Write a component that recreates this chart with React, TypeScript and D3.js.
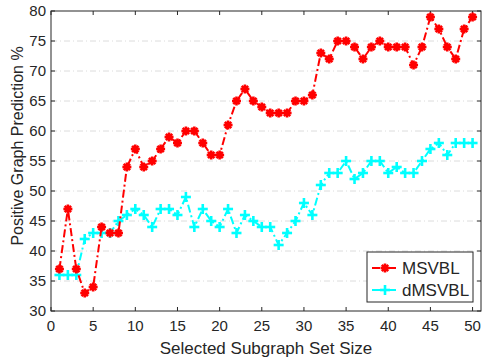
import React, { useEffect, useRef } from "react";
import * as d3 from "d3";

const width = 482;
const height = 360;
const margin = { top: 11, right: 1, bottom: 49, left: 51 };

const sizes = d3.range(1, 51);
const msvbl = [37, 47, 37, 33, 34, 44, 43, 43, 54, 57, 54, 55, 57, 59, 58, 60, 60, 58, 56, 56,
  61, 65, 67, 65, 64, 63, 63, 63, 65, 65, 66, 73, 72, 75, 75, 74, 72, 74, 75, 74,
  74, 74, 71, 74, 79, 77, 74, 72, 77, 79];
const dmsvbl = [36, 36, 36, 42, 43, 43, 43, 45, 46, 47, 46, 44, 47, 47, 46, 49, 44, 47, 45, 44,
  47, 43, 46, 45, 44, 44, 41, 43, 45, 48, 46, 51, 53, 53, 55, 52, 53, 55, 55, 53,
  54, 53, 53, 55, 57, 58, 56, 58, 58, 58];
const xTicks = d3.range(0, 51, 5);
const yTicks = d3.range(30, 81, 5);
const seriesNames = ["MSVBL", "dMSVBL"];
const seriesColors = ["#ff0000", "#00ffff"];

const axisColor = "#262626";

function App() {
  const ref = useRef(null);

  useEffect(() => {
    document.body.style.margin = "0";
    const svg = d3.select(ref.current);
    svg.selectAll("*").remove();

    const x = d3.scaleLinear().domain([0, 51]).range([margin.left, width - margin.right]);
    const y = d3.scaleLinear().domain([30, 80]).range([height - margin.bottom, margin.top]);

    svg.append("rect").attr("width", width).attr("height", height).attr("fill", "#fff");

    // horizontal grid
    svg.append("g")
      .selectAll("line")
      .data(yTicks.filter(d => d > 30 && d < 80))
      .join("line")
      .attr("x1", x(0)).attr("x2", x(51))
      .attr("y1", d => y(d)).attr("y2", d => y(d))
      .attr("stroke", "#dcdcdc")
      .attr("stroke-width", 1)
      .attr("stroke-dasharray", "6,3,1,3");

    // box
    svg.append("rect")
      .attr("x", x(0)).attr("y", y(80))
      .attr("width", x(51) - x(0)).attr("height", y(30) - y(80))
      .attr("fill", "none").attr("stroke", axisColor).attr("stroke-width", 1);

    const tl = 4;
    const ticks = svg.append("g").attr("stroke", axisColor).attr("stroke-width", 1);
    xTicks.forEach(t => {
      ticks.append("line").attr("x1", x(t)).attr("x2", x(t)).attr("y1", y(30)).attr("y2", y(30) - tl);
      ticks.append("line").attr("x1", x(t)).attr("x2", x(t)).attr("y1", y(80)).attr("y2", y(80) + tl);
    });
    yTicks.forEach(t => {
      ticks.append("line").attr("x1", x(0)).attr("x2", x(0) + tl).attr("y1", y(t)).attr("y2", y(t));
      ticks.append("line").attr("x1", x(51)).attr("x2", x(51) - tl).attr("y1", y(t)).attr("y2", y(t));
    });

    const font = "'Liberation Sans', Arial, sans-serif";
    svg.append("g")
      .selectAll("text")
      .data(xTicks)
      .join("text")
      .attr("x", d => x(d)).attr("y", y(30) + 20)
      .attr("text-anchor", "middle")
      .attr("font-family", font).attr("font-size", 15)
      .attr("fill", axisColor)
      .text(d => d);
    svg.append("g")
      .selectAll("text")
      .data(yTicks)
      .join("text")
      .attr("x", x(0) - 5).attr("y", d => y(d) + 5)
      .attr("text-anchor", "end")
      .attr("font-family", font).attr("font-size", 15)
      .attr("fill", axisColor)
      .text(d => d);

    svg.append("text")
      .attr("x", (x(0) + x(51)) / 2).attr("y", 354)
      .attr("text-anchor", "middle")
      .attr("font-family", font).attr("font-size", 17)
      .attr("fill", axisColor)
      .text("Selected Subgraph Set Size");
    svg.append("text")
      .attr("transform", `translate(23, 146) rotate(-90)`)
      .attr("text-anchor", "middle")
      .attr("font-family", font).attr("font-size", 16)
      .attr("fill", axisColor)
      .text("Positive Graph Prediction %");

    const line = d3.line().x(d => x(d[0])).y(d => y(d[1]));
    const star = (g, cx, cy, color) => {
      const r = 4.5;
      [0, 45, 90, 135].forEach(a => {
        const rad = (a * Math.PI) / 180;
        g.append("line")
          .attr("x1", cx - r * Math.cos(rad)).attr("y1", cy - r * Math.sin(rad))
          .attr("x2", cx + r * Math.cos(rad)).attr("y2", cy + r * Math.sin(rad))
          .attr("stroke", color).attr("stroke-width", 2.6);
      });
      g.append("circle").attr("cx", cx).attr("cy", cy).attr("r", 3).attr("fill", color);
    };
    const plus = (g, cx, cy, color) => {
      const r = 5;
      g.append("line").attr("x1", cx - r).attr("x2", cx + r).attr("y1", cy).attr("y2", cy)
        .attr("stroke", color).attr("stroke-width", 2.6);
      g.append("line").attr("x1", cx).attr("x2", cx).attr("y1", cy - r).attr("y2", cy + r)
        .attr("stroke", color).attr("stroke-width", 2.6);
    };

    const data = [msvbl, dmsvbl];
    const markers = [star, plus];
    // draw cyan first then red on top
    [1, 0].forEach(i => {
      const pts = sizes.map((s, j) => [s, data[i][j]]);
      svg.append("path")
        .attr("d", line(pts))
        .attr("fill", "none")
        .attr("stroke", seriesColors[i])
        .attr("stroke-width", 2)
        .attr("stroke-dasharray", "8,3,2,3");
      const g = svg.append("g");
      pts.forEach(p => markers[i](g, x(p[0]), y(p[1]), seriesColors[i]));
    });

    // legend
    const lg = svg.append("g");
    lg.append("rect")
      .attr("x", 367).attr("y", 252).attr("width", 106).attr("height", 50)
      .attr("fill", "#fff").attr("stroke", axisColor).attr("stroke-width", 1);
    seriesNames.forEach((name, i) => {
      const cy = 268 + i * 22;
      lg.append("line")
        .attr("x1", 372).attr("x2", 398).attr("y1", cy).attr("y2", cy)
        .attr("stroke", seriesColors[i]).attr("stroke-width", 2)
        .attr("stroke-dasharray", "8,3,2,3");
      markers[i](lg, 385, cy, seriesColors[i]);
      lg.append("text")
        .attr("x", 402).attr("y", cy + 6)
        .attr("font-family", font).attr("font-size", 17)
        .attr("fill", axisColor)
        .text(name);
    });
  }, []);

  return <svg ref={ref} width={width} height={height} style={{ display: "block" }} />;
}

export default App;
